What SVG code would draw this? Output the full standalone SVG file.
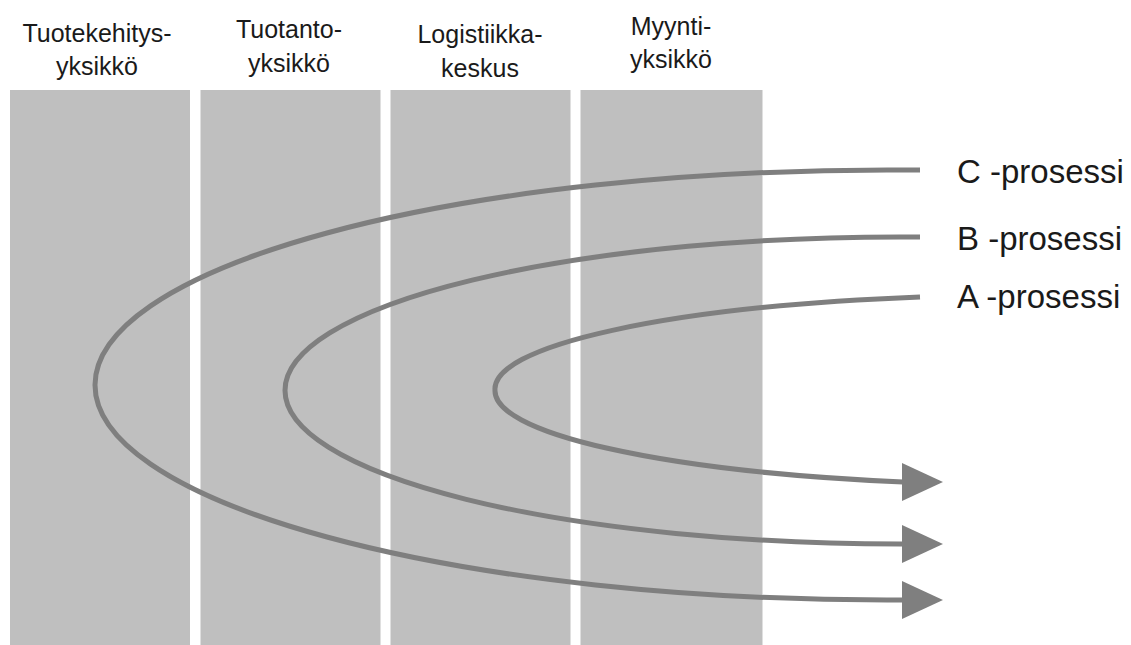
<svg xmlns="http://www.w3.org/2000/svg" width="1131" height="645" viewBox="0 0 1131 645">
  <style>
    .col { fill: #bfbfbf; }
    .hdr { font-family: "Liberation Sans", Arial, sans-serif; font-size: 25px; fill: #1a1a1a; text-anchor: middle; }
    .lbl { font-family: "Liberation Sans", Arial, sans-serif; font-size: 33px; fill: #1a1a1a; }
    .proc { fill: none; stroke: #7f7f7f; stroke-width: 5; marker-end: url(#arrow); }
  </style>
  <defs>
    <marker id="arrow" markerUnits="userSpaceOnUse" markerWidth="44" markerHeight="40" refX="1" refY="20" orient="0" viewBox="0 0 44 40">
      <path d="M0,1 L41,20 L0,39 Z" fill="#7f7f7f"/>
    </marker>
  </defs>
  <rect width="1131" height="645" fill="#ffffff"/>

  <g id="tuotekehitysyksikko">
    <rect class="col" x="10" y="90" width="180" height="555"/>
    <text class="hdr" x="97" y="42">Tuotekehitys-</text>
    <text class="hdr" x="97" y="75">yksikkö</text>
  </g>
  <g id="tuotantoyksikko">
    <rect class="col" x="200.5" y="90" width="180" height="555"/>
    <text class="hdr" x="289" y="38">Tuotanto-</text>
    <text class="hdr" x="289" y="72">yksikkö</text>
  </g>
  <g id="logistiikkakeskus">
    <rect class="col" x="390.5" y="90" width="180" height="555"/>
    <text class="hdr" x="480" y="43">Logistiikka-</text>
    <text class="hdr" x="480" y="77">keskus</text>
  </g>
  <g id="myyntiyksikko">
    <rect class="col" x="580.5" y="90" width="182" height="555"/>
    <text class="hdr" x="671" y="35">Myynti-</text>
    <text class="hdr" x="671" y="68">yksikkö</text>
  </g>

  <g id="connectors">
    <path id="c-prosessi" class="proc" d="M920,170 L887,170 A792,215 0 0 0 95,385 A792,215 0 0 0 887,600 L903,600"/>
    <path id="b-prosessi" class="proc" d="M920,237 A615,153.5 0 0 0 285,390.5 A615,153.5 0 0 0 903,544"/>
    <path id="a-prosessi" class="proc" d="M920,297 A540,94 0 0 0 495,390 A540,94 0 0 0 903,482"/>
  </g>

  <g id="labels">
    <text class="lbl" x="957" y="183">C -prosessi</text>
    <text class="lbl" x="957" y="250">B -prosessi</text>
    <text class="lbl" x="957" y="308">A -prosessi</text>
  </g>
</svg>
